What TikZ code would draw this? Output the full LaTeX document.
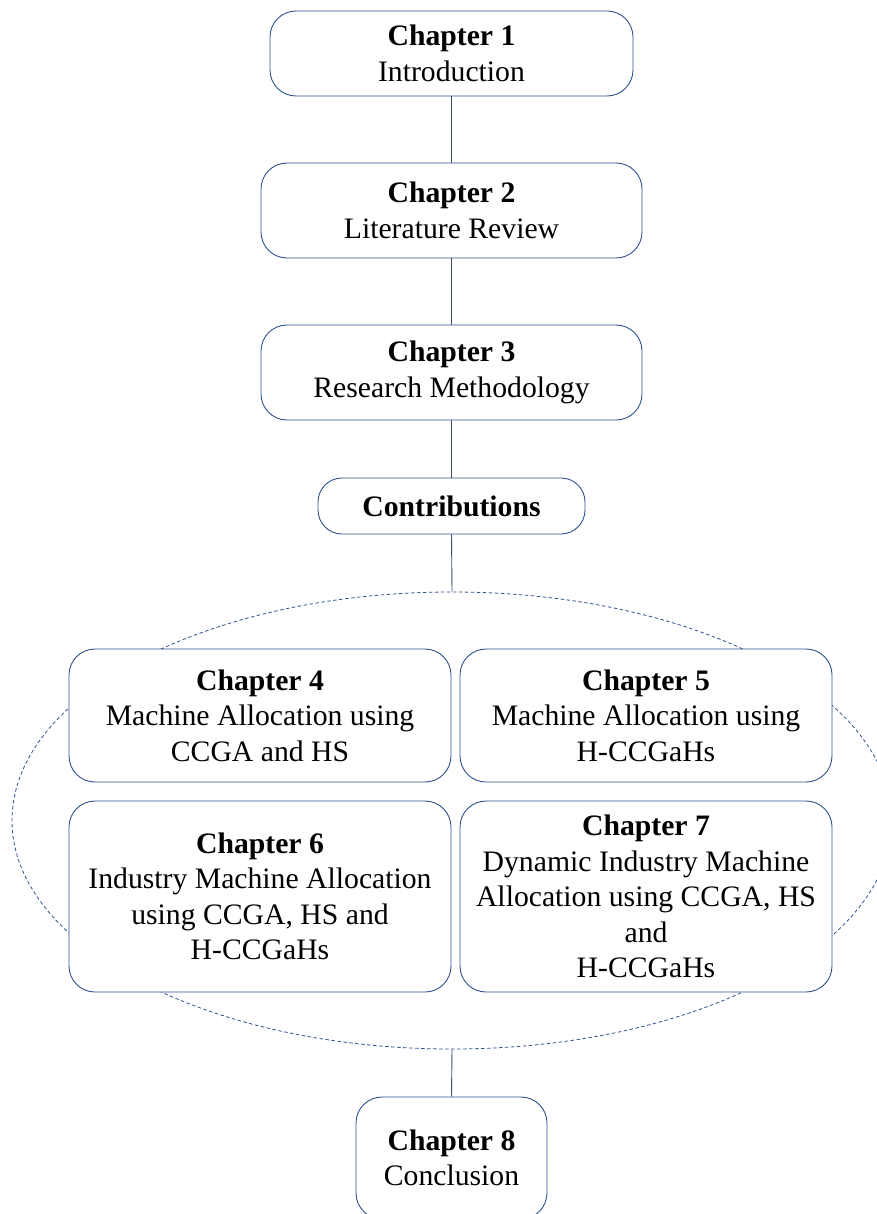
\documentclass[tikz,border=0pt]{standalone}
\usepackage{fontspec}
\setmainfont{Liberation Serif}
\usetikzlibrary{shapes.geometric}
\definecolor{boxline}{RGB}{47,82,143}
\definecolor{conline}{RGB}{60,80,115}
\tikzset{
  chapbox/.style={draw=boxline, line width=0.9pt, fill=white, rounded corners=26pt,
    align=center, inner sep=0pt, font=\fontsize{29.7}{35.5}\selectfont},
  conn/.style={draw=conline, line width=0.9pt},
  grpell/.style={ellipse, draw=boxline, line width=0.8pt, dash pattern=on 3.5pt off 2.5pt, inner sep=0pt}
}
\begin{document}
\begin{tikzpicture}[x=1pt,y=-1pt]
\useasboundingbox (0,0) rectangle (877,1214);
\node[grpell, minimum width=880pt, minimum height=457pt] (grp) at (452,820.5) {};
\node[chapbox, minimum width=363pt, minimum height=85pt] (c1) at (451.5,53.5) {\textbf{Chapter 1}\\Introduction};
\node[chapbox, minimum width=381pt, minimum height=95pt] (c2) at (451.5,210.5) {\textbf{Chapter 2}\\Literature Review};
\node[chapbox, minimum width=381pt, minimum height=95pt] (c3) at (451.5,372.5) {\textbf{Chapter 3}\\Research Methodology};
\node[chapbox, rounded corners=24pt, minimum width=267pt, minimum height=56pt] (con) at (451.5,506) {\textbf{Contributions}};
\node[chapbox, minimum width=382pt, minimum height=133pt] (c4) at (260,715.5) {\textbf{Chapter 4}\\Machine Allocation using\\CCGA and HS};
\node[chapbox, minimum width=372pt, minimum height=133pt] (c5) at (646,715.5) {\textbf{Chapter 5}\\Machine Allocation using\\H-CCGaHs};
\node[chapbox, minimum width=382pt, minimum height=191pt] (c6) at (260,896.5) {\textbf{Chapter 6}\\Industry Machine Allocation\\using CCGA, HS and\\H-CCGaHs};
\node[chapbox, minimum width=372pt, minimum height=191pt] (c7) at (646,896.5) {\textbf{Chapter 7}\\Dynamic Industry Machine\\Allocation using CCGA, HS\\and\\H-CCGaHs};
\node[chapbox, minimum width=191pt, minimum height=122pt] (c8) at (451.5,1158) {\textbf{Chapter 8}\\Conclusion};
\draw[conn] (c1.south) -- (c2.north);
\draw[conn] (c2.south) -- (c3.north);
\draw[conn] (c3.south) -- (con.north);
\draw[conn] (con.south) -- (grp.north);
\draw[conn] (grp.south) -- (c8.north);
\end{tikzpicture}
\end{document}
